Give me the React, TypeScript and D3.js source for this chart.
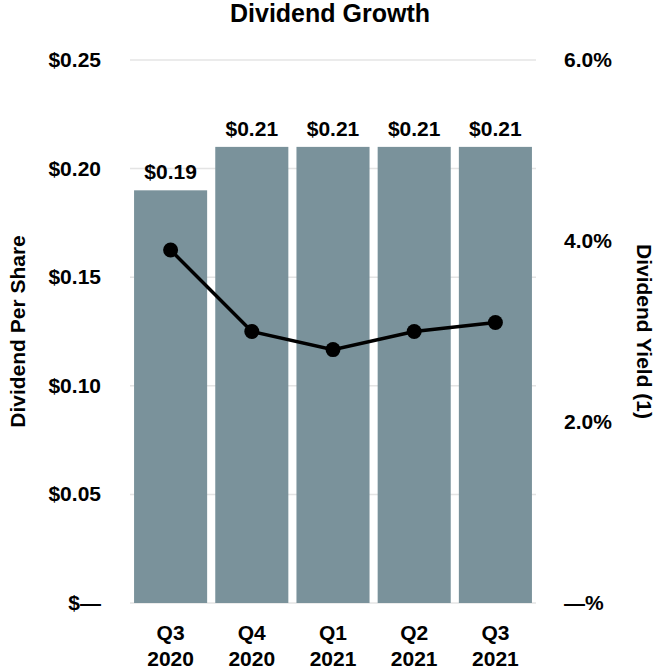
import React, { useEffect, useRef } from "react";
import * as d3 from "d3";

// Quarter labels (two lines each)
const quarters = ["Q3", "Q4", "Q1", "Q2", "Q3"];
const years = ["2020", "2020", "2021", "2021", "2021"];
// Dividend per share (bars, left axis)
const dividends = [0.19, 0.21, 0.21, 0.21, 0.21];
// Dividend yield in % (line, right axis)
const yields = [3.9, 3.0, 2.8, 3.0, 3.1];
// Axis ticks
const leftTicks = [0, 0.05, 0.1, 0.15, 0.2, 0.25];
const rightTicks = [0, 2, 4, 6];

const WIDTH = 660;
const HEIGHT = 670;
const FONT = "'Liberation Sans', Arial, Helvetica, sans-serif";

const App: React.FC = () => {
  const svgRef = useRef<SVGSVGElement | null>(null);

  useEffect(() => {
    if (!svgRef.current) return;
    const svg = d3.select(svgRef.current);
    svg.selectAll("*").remove();

    const plot = { left: 130, right: 536, top: 60, bottom: 603 };
    const keys = quarters.map((q, i) => `${q}-${years[i]}-${i}`);

    const x = d3.scaleBand<string>()
      .domain(keys)
      .range([plot.left, plot.right])
      .paddingInner(0.1)
      .paddingOuter(0.05);

    const yLeft = d3.scaleLinear().domain([0, 0.25]).range([plot.bottom, plot.top]);
    const yRight = d3.scaleLinear().domain([0, 6]).range([plot.bottom, plot.top]);

    const text = (g: any) =>
      g.style("font-family", FONT).style("font-weight", "bold").attr("fill", "#000");

    // Title
    svg.append("text")
      .attr("x", WIDTH / 2)
      .attr("y", 22)
      .attr("text-anchor", "middle")
      .style("font-size", "25px")
      .text("Dividend Growth")
      .call(text);

    // Gridlines
    svg.append("g")
      .selectAll("line")
      .data(leftTicks)
      .enter()
      .append("line")
      .attr("x1", plot.left)
      .attr("x2", plot.right)
      .attr("y1", (d) => yLeft(d))
      .attr("y2", (d) => yLeft(d))
      .attr("stroke", "#e4e4e4")
      .attr("stroke-width", 1.5);

    // Left tick labels
    svg.append("g")
      .selectAll("text")
      .data(leftTicks)
      .enter()
      .append("text")
      .attr("x", 101)
      .attr("y", (d) => yLeft(d) + 7)
      .attr("text-anchor", "end")
      .style("font-size", "21px")
      .text((d) => (d === 0 ? "$—" : `$${d3.format(".2f")(d)}`))
      .call(text);

    // Right tick labels
    svg.append("g")
      .selectAll("text")
      .data(rightTicks)
      .enter()
      .append("text")
      .attr("x", 564)
      .attr("y", (d) => yRight(d) + 7)
      .attr("text-anchor", "start")
      .style("font-size", "21px")
      .text((d) => (d === 0 ? "—%" : `${d3.format(".1f")(d)}%`))
      .call(text);

    // Axis titles
    svg.append("text")
      .attr("transform", `translate(25, ${(plot.top + plot.bottom) / 2}) rotate(-90)`)
      .attr("text-anchor", "middle")
      .style("font-size", "21px")
      .text("Dividend Per Share")
      .call(text);

    svg.append("text")
      .attr("transform", `translate(637, ${(plot.top + plot.bottom) / 2}) rotate(90)`)
      .attr("text-anchor", "middle")
      .style("font-size", "21px")
      .text("Dividend Yield (1)")
      .call(text);

    // Bars
    svg.append("g")
      .selectAll("rect")
      .data(dividends)
      .enter()
      .append("rect")
      .attr("x", (d, i) => x(keys[i]) as number)
      .attr("y", (d) => yLeft(d))
      .attr("width", x.bandwidth())
      .attr("height", (d) => plot.bottom - yLeft(d))
      .attr("fill", "#7a929b");

    // Bar value labels
    svg.append("g")
      .selectAll("text")
      .data(dividends)
      .enter()
      .append("text")
      .attr("x", (d, i) => (x(keys[i]) as number) + x.bandwidth() / 2)
      .attr("y", (d) => yLeft(d) - 11)
      .attr("text-anchor", "middle")
      .style("font-size", "21px")
      .text((d) => `$${d3.format(".2f")(d)}`)
      .call(text);

    // Yield line
    const cx = (i: number) => (x(keys[i]) as number) + x.bandwidth() / 2;
    const line = d3.line<number>()
      .x((d, i) => cx(i))
      .y((d) => yRight(d));

    svg.append("path")
      .datum(yields)
      .attr("d", line)
      .attr("fill", "none")
      .attr("stroke", "#000")
      .attr("stroke-width", 3.5);

    svg.append("g")
      .selectAll("circle")
      .data(yields)
      .enter()
      .append("circle")
      .attr("cx", (d, i) => cx(i))
      .attr("cy", (d) => yRight(d))
      .attr("r", 7.5)
      .attr("fill", "#000");

    // X axis labels
    const xl = svg.append("g")
      .selectAll("text")
      .data(keys)
      .enter()
      .append("text")
      .attr("text-anchor", "middle")
      .style("font-size", "21px")
      .call(text);

    xl.append("tspan")
      .attr("x", (d) => (x(d) as number) + x.bandwidth() / 2)
      .attr("y", 640)
      .text((d, i) => quarters[i]);

    xl.append("tspan")
      .attr("x", (d) => (x(d) as number) + x.bandwidth() / 2)
      .attr("y", 666)
      .text((d, i) => years[i]);
  }, []);

  return (
    <svg
      ref={svgRef}
      width={WIDTH}
      height={HEIGHT}
      style={{ position: "absolute", left: 0, top: 0, background: "#fff" }}
    />
  );
};

export default App;
